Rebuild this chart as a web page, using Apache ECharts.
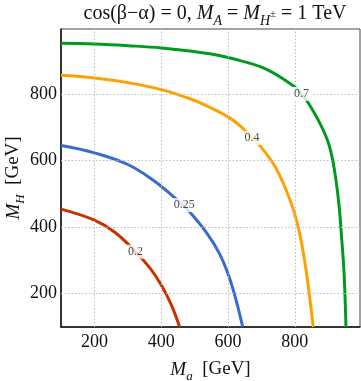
<!DOCTYPE html>
<html>
<head>
<meta charset="utf-8">
<script src="https://cdn.jsdelivr.net/npm/echarts@6/dist/echarts.min.js"></script>
<style>
  html, body { margin: 0; padding: 0; background: #fff; }
  #chart { width: 361px; height: 381px; }
</style>
</head>
<body>
<div id="chart"></div>
<script>
// contour lines, [Ma, MH] in GeV
const curve02 = [[100, 454], [200, 421], [262, 384], [323, 326], [367, 276], [400, 226], [430, 167], [455, 100]];
const curve025 = [[100, 645], [200, 623], [300, 588], [380, 538], [437, 491], [490, 440], [537, 381], [574, 321], [602, 254], [624, 181], [644, 100]];
const curve04 = [[100, 856], [200, 848], [300, 834], [400, 813], [490, 784], [545, 760], [605, 728], [637, 703], [672, 668], [697, 643], [737, 588], [767, 528], [797, 448], [817, 368], [834, 268], [847, 168], [855, 100]];
const curve07 = [[100, 952], [200, 950], [300, 945], [400, 938], [550, 920], [637, 900], [717, 873], [797, 823], [820, 800], [837, 778], [877, 708], [902, 648], [919, 568], [932, 468], [940, 368], [947, 268], [951, 168], [953, 100]];

const labelNames = ['0.2', '0.25', '0.4', '0.7'];
const labelMa = [323, 469, 672, 820];
const labelMH = [326, 466, 668, 800];

const xTicks = [200, 400, 600, 800];
const yTicks = [200, 400, 600, 800];

const serif = "'Liberation Serif', 'DejaVu Serif', serif";
function richSet(size) {
  return {
    n: { fontFamily: serif, fontSize: size, fontWeight: 'normal', color: '#111', lineHeight: size + 8 },
    i: { fontFamily: serif, fontSize: size, fontWeight: 'normal', color: '#111', fontStyle: 'italic', lineHeight: size + 8 },
    s: { fontFamily: serif, fontSize: Math.round(size * 0.68), fontWeight: 'normal', color: '#111', fontStyle: 'italic', verticalAlign: 'bottom', lineHeight: size + 8 },
    p: { fontFamily: serif, fontSize: Math.round(size * 0.55), fontWeight: 'normal', color: '#111', verticalAlign: 'middle', lineHeight: size + 8 }
  };
}

function contour(data, color) {
  return {
    type: 'line',
    data: data,
    smooth: 0.4,
    showSymbol: false,
    symbol: 'none',
    z: 3,
    lineStyle: { color: color, width: 3 },
    silent: true
  };
}

let chart = echarts.init(document.getElementById('chart'), null, { renderer: 'canvas' });

const option = {
  animation: false,
  title: {
    text: '{n|cos(β−α) = 0, }{i|M}{s|A}{n| = }{i|M}{s|H}{p|±}{n| = 1 TeV}',
    left: 210,
    top: -5,
    textAlign: 'center',
    textStyle: { fontWeight: 'normal', rich: richSet(20) }
  },
  grid: {
    left: 61, right: 1, top: 29, bottom: 54,
    outerBoundsMode: 'none',
    containLabel: false,
    show: true, borderColor: '#444', borderWidth: 1
  },
  xAxis: {
    type: 'value',
    min: 100, max: 995, interval: 100,
    name: '{i|M}{s|a}{n|  [GeV]}',
    nameLocation: 'middle',
    nameGap: 29,
    nameMoveOverlap: false,
    nameTextStyle: { rich: richSet(19) },
    axisLine: { show: true, lineStyle: { color: '#111', width: 1.5 } },
    axisTick: { show: false },
    splitLine: { show: false },
    axisLabel: {
      fontFamily: serif, fontSize: 18, color: '#111', margin: 6,
      formatter: v => (xTicks.indexOf(v) >= 0 ? String(v) : '')
    }
  },
  yAxis: {
    type: 'value',
    min: 100, max: 995, interval: 100,
    name: '{i|M}{s|H}{n|  [GeV]}',
    nameLocation: 'middle',
    nameGap: 34,
    nameMoveOverlap: false,
    nameTextStyle: { rich: richSet(19) },
    axisLine: { show: true, lineStyle: { color: '#111', width: 1.5 } },
    axisTick: { show: false },
    splitLine: { show: false },
    axisLabel: {
      fontFamily: serif, fontSize: 18, color: '#111', margin: 4,
      formatter: v => (yTicks.indexOf(v) >= 0 ? String(v) : '')
    }
  },
  series: [
    {
      type: 'line',
      data: [],
      z: 1,
      silent: true,
      markLine: {
        silent: true,
        symbol: 'none',
        animation: false,
        label: { show: false },
        lineStyle: { color: '#bbb', type: [1.5, 2], width: 1 },
        data: xTicks.map(v => ({ xAxis: v })).concat(yTicks.map(v => ({ yAxis: v })))
      }
    },
    contour(curve02, '#c83200'),
    contour(curve025, '#3a68d4'),
    contour(curve04, '#ffa000'),
    contour(curve07, '#009a1f'),
    {
      type: 'scatter',
      symbolSize: 0,
      z: 5,
      silent: true,
      data: labelNames.map((n, k) => ({ name: n, value: [labelMa[k], labelMH[k]] })),
      label: {
        show: true,
        position: 'inside',
        formatter: p => p.name,
        fontFamily: serif,
        fontSize: 12,
        color: '#222',
        backgroundColor: '#fff',
        padding: [1, 2]
      }
    }
  ]
};

chart.setOption(option);
</script>
</body>
</html>
